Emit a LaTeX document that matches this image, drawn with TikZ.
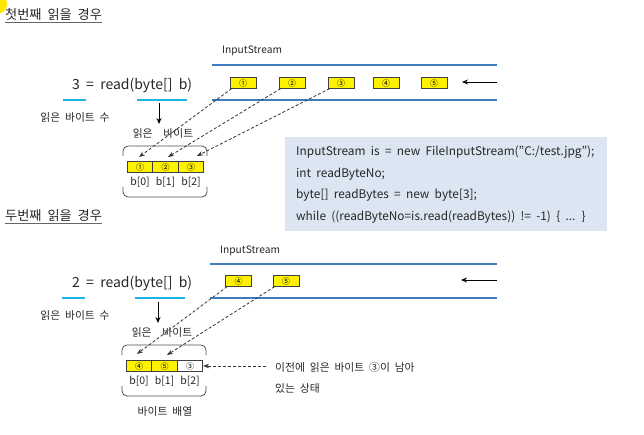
\documentclass[tikz,border=0pt]{standalone}
\usepackage{fontspec}
\setmainfont[WordSpace=2]{Noto Sans CJK KR}
\usetikzlibrary{arrows.meta}
\definecolor{streamblue}{HTML}{3F7CBF}
\definecolor{ulcyan}{HTML}{1FB4E6}
\definecolor{codebg}{HTML}{DCE6F2}
\definecolor{boxyellow}{HTML}{FFF200}
\tikzset{
  txt/.style={inner sep=0pt, text=black!85},
  titletxt/.style={txt, anchor=west, font=\fontsize{13.2}{15}\selectfont},
  readtxt/.style={txt, anchor=west, font=\fontsize{14}{17}\selectfont},
  smalltxt/.style={txt, font=\fontsize{10.8}{12}\selectfont},
  streamtxt/.style={txt, anchor=west, font=\fontsize{10.2}{11}\selectfont},
  codetxt/.style={txt, anchor=west, font=\fontsize{11.85}{13}\selectfont},
  ybox/.style={draw=black!75, fill=boxyellow, line width=0.7pt, minimum width=26pt, minimum height=10.5pt, inner sep=0pt, font=\fontsize{8}{8}\selectfont},
  wbox/.style={ybox, fill=white},
  streamline/.style={draw=streamblue, line width=2.6pt},
  cyanline/.style={draw=ulcyan, line width=2.2pt},
  dasharrow/.style={draw=black!80, dash pattern=on 3pt off 2pt, line width=0.8pt, -{Stealth[length=6pt,width=4.5pt]}},
  solidarrow/.style={draw=black, line width=0.9pt, -{Stealth[length=6pt,width=5pt]}},
  bracketline/.style={draw=black!70, line width=0.8pt, rounded corners=5pt},
}
\begin{document}
\begin{tikzpicture}[x=1pt,y=-1pt]
\useasboundingbox (0,0) rectangle (644,435);
\fill[boxyellow!90!orange] (0,4) ellipse (7 and 9);

% ---------- section 1 ----------
\node[titletxt] (title1) at (5,15) {첫번째 읽을 경우};
\draw[black!60, line width=0.8pt] ([yshift=-1.5pt]title1.south west) -- ([yshift=-1.5pt]title1.south east);

\node[streamtxt] (is1) at (222,51) {InputStream};
\draw[streamline] (212,65) -- (497,65);
\draw[streamline] (212,100) -- (497,100);
\node[ybox] (a1) at (243,83) {①};
\node[ybox] (a2) at (292,83) {②};
\node[ybox] (a3) at (341,83) {③};
\node[ybox] (a4) at (386,83) {④};
\node[ybox] (a5) at (434,83) {⑤};
\coordinate (in1s) at (497,82);
\coordinate (in1e) at (462,82);
\draw[solidarrow] (in1s) -- (in1e);

\node[readtxt] (read1) at (72,85) {3 = read(byte[] b)};
\draw[cyanline] (63,100) -- (86,100);
\draw[cyanline] (137,100) -- (187,100);
\node[smalltxt] (cnt1) at (75,117) {읽은 바이트 수};
\coordinate (dn1s) at (159,103);
\coordinate (dn1e) at (159,124);
\draw[solidarrow] (dn1s) -- (dn1e);
\node[smalltxt] (rb1) at (163,133) {읽은\hspace{1em}바이트};

\draw[bracketline] (123,156) -- (123,146) -- (207,146) -- (207,156);
\draw[bracketline] (123,187) -- (123,197) -- (207,197) -- (207,187);
\node[ybox, minimum width=25.5pt] (c1) at (140,167) {①};
\node[ybox, minimum width=25.5pt] (c2) at (165.5,167) {②};
\node[ybox, minimum width=25.5pt] (c3) at (191,167) {③};
\node[smalltxt, font=\fontsize{10.5}{12}\selectfont] (b10) at (140,182) {b[0]};
\node[smalltxt, font=\fontsize{10.5}{12}\selectfont] (b11) at (165.5,182) {b[1]};
\node[smalltxt, font=\fontsize{10.5}{12}\selectfont] (b12) at (191,182) {b[2]};

\coordinate (t11) at (139,157);
\coordinate (t12) at (168,157);
\coordinate (t13) at (197,156);
\draw[dasharrow] ([xshift=2pt]a1.south west) -- (t11);
\draw[dasharrow] ([xshift=2pt]a2.south west) -- (t12);
\draw[dasharrow] ([xshift=2pt]a3.south west) -- (t13);

% code box
\fill[codebg] (285,137) rectangle (607,231);
\node[codetxt] (code1) at (296,152) {InputStream is = new FileInputStream("C:/test.jpg");};
\node[codetxt] (code2) at (296,174) {int readByteNo;};
\node[codetxt] (code3) at (296,195) {byte[] readBytes = new byte[3];};
\node[codetxt] (code4) at (296,217) {while ((readByteNo=is.read(readBytes)) != -1) \{ ... \}};

% ---------- section 2 ----------
\node[titletxt] (title2) at (5,216) {두번째 읽을 경우};
\draw[black!60, line width=0.8pt] ([yshift=-1.5pt]title2.south west) -- ([yshift=-1.5pt]title2.south east);

\node[streamtxt] (is2) at (220,251) {InputStream};
\draw[streamline] (210,264) -- (497,264);
\draw[streamline] (210,298) -- (497,298);
\node[ybox] (d4) at (238.5,281) {④};
\node[ybox] (d5) at (286,281) {⑤};
\coordinate (in2s) at (497,280);
\coordinate (in2e) at (461,280);
\draw[solidarrow] (in2s) -- (in2e);

\node[readtxt] (read2) at (72,283) {2 = read(byte[] b)};
\draw[cyanline] (62,298) -- (85,298);
\draw[cyanline] (135,298) -- (185,298);
\node[smalltxt] (cnt2) at (75,315) {읽은 바이트 수};
\coordinate (dn2s) at (158,302);
\coordinate (dn2e) at (158,323);
\draw[solidarrow] (dn2s) -- (dn2e);
\node[smalltxt] (rb2) at (162,332) {읽은\hspace{1em}바이트};

\draw[bracketline] (122,355) -- (122,345) -- (206,345) -- (206,355);
\draw[bracketline] (122,386) -- (122,396) -- (206,396) -- (206,386);
\node[ybox, minimum width=25.5pt] (e1) at (139,366) {④};
\node[ybox, minimum width=25.5pt] (e2) at (164.5,366) {⑤};
\node[wbox, minimum width=25.5pt] (e3) at (190,366) {③};
\node[smalltxt, font=\fontsize{10.5}{12}\selectfont] (b20) at (139,381) {b[0]};
\node[smalltxt, font=\fontsize{10.5}{12}\selectfont] (b21) at (164.5,381) {b[1]};
\node[smalltxt, font=\fontsize{10.5}{12}\selectfont] (b22) at (190,381) {b[2]};
\node[smalltxt] (arr) at (165,411) {바이트 배열};

\coordinate (t21) at (137,354);
\coordinate (t22) at (167,355);
\draw[dasharrow] ([xshift=2pt]d4.south west) -- (t21);
\draw[dasharrow] ([xshift=2pt]d5.south west) -- (t22);

\coordinate (rem) at (266,366);
\draw[dasharrow] (rem) -- (e3.east);
\node[smalltxt, anchor=west] (note1) at (275,367) {이전에 읽은 바이트 ③이 남아};
\node[smalltxt, anchor=west] (note2) at (275,388) {있는 상태};
\end{tikzpicture}
\end{document}
